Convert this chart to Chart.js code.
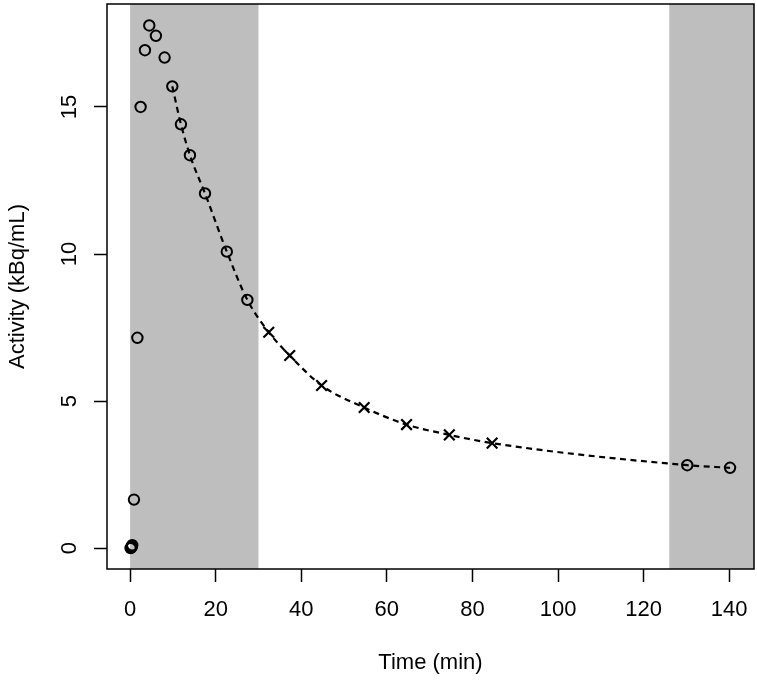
<!DOCTYPE html>
<html>
<head>
<meta charset="utf-8">
<title>Activity vs Time</title>
<script src="https://cdn.jsdelivr.net/npm/chart.js@4.4.0/dist/chart.umd.min.js"></script>
<style>
    body { margin: 0; background: #ffffff; }
    #wrap { width: 757px; height: 680px; }
</style>
</head>
<body>
<div id="wrap"><canvas id="activityChart" width="757" height="680"></canvas></div>
<script>
// measured samples (open circles)
const circleTimes = [0.1, 0.25, 0.4, 0.5, 0.9, 1.7, 2.45, 3.47, 4.48, 6.03, 8.06, 9.86, 11.88, 13.98, 17.5, 22.6, 27.4, 130.2, 140.2];
const circleValues = [0.0, 0.02, 0.05, 0.1, 1.65, 7.15, 15.0, 16.93, 17.77, 17.42, 16.68, 15.7, 14.41, 13.36, 12.06, 10.08, 8.44, 2.82, 2.73];

// estimated samples (crosses)
const crossTimes = [32.4, 37.3, 44.75, 54.7, 64.6, 74.6, 84.6];
const crossValues = [7.34, 6.55, 5.53, 4.78, 4.2, 3.85, 3.57];

// dashed fitted curve
const curveTimes = [9.86, 11.88, 13.98, 17.5, 22.6, 27.4, 32.4, 37.3, 44.75, 54.7, 64.6, 74.6, 84.6, 130.2, 140.2];
const curveValues = [15.7, 14.41, 13.36, 12.06, 10.08, 8.44, 7.34, 6.55, 5.53, 4.78, 4.2, 3.85, 3.57, 2.82, 2.73];

// grey bands (min)
const bandStarts = [0, 126];
const bandEnds = [30, 150];

const xTicks = [0, 20, 40, 60, 80, 100, 120, 140];
const yTicks = [0, 5, 10, 15];

function toPoints(xs, ys) {
    return xs.map(function (x, i) { return { x: x, y: ys[i] }; });
}

const fontFamily = "'Liberation Sans', Arial, sans-serif";
const fontSize = 22;

// shaded bands behind the data, box and rotated y labels on top
const bandPlugin = {
    id: "bands",
    beforeDatasetsDraw: function (chart) {
        const ctx = chart.ctx;
        const area = chart.chartArea;
        const xs = chart.scales.x;
        ctx.save();
        ctx.fillStyle = "#bebebe";
        for (let i = 0; i < bandStarts.length; i++) {
            let left = Math.max(xs.getPixelForValue(bandStarts[i]), area.left);
            let right = Math.min(xs.getPixelForValue(bandEnds[i]), area.right);
            ctx.fillRect(left, area.top, right - left, area.bottom - area.top);
        }
        ctx.restore();
    },
    afterDraw: function (chart) {
        const ctx = chart.ctx;
        const area = chart.chartArea;
        const ys = chart.scales.y;
        ctx.save();
        ctx.strokeStyle = "#000000";
        ctx.lineWidth = 1.5;
        ctx.strokeRect(area.left, area.top, area.right - area.left, area.bottom - area.top);

        ctx.fillStyle = "#000000";
        ctx.font = fontSize + "px " + fontFamily;
        ctx.textAlign = "center";
        ctx.textBaseline = "middle";
        yTicks.forEach(function (v) {
            const py = ys.getPixelForValue(v);
            ctx.save();
            ctx.translate(area.left - 37, py);
            ctx.rotate(-Math.PI / 2);
            ctx.fillText(String(v), 0, 0);
            ctx.restore();
        });
        ctx.restore();
    }
};

new Chart(
    document.getElementById("activityChart"),
    {
        type: "scatter",
        data: {
            datasets: [
                {
                    label: "Fit",
                    type: "line",
                    data: toPoints(curveTimes, curveValues),
                    borderColor: "#000000",
                    borderWidth: 2.2,
                    borderDash: [6, 4.5],
                    cubicInterpolationMode: "monotone",
                    pointRadius: 0,
                    fill: false
                },
                {
                    label: "Measured",
                    data: toPoints(circleTimes, circleValues),
                    pointStyle: "circle",
                    pointRadius: 5.2,
                    pointBorderWidth: 2,
                    borderColor: "#000000",
                    backgroundColor: "rgba(0,0,0,0)"
                },
                {
                    label: "Estimated",
                    data: toPoints(crossTimes, crossValues),
                    pointStyle: "crossRot",
                    pointRadius: 7.5,
                    pointBorderWidth: 2.2,
                    borderColor: "#000000",
                    backgroundColor: "#000000"
                }
            ]
        },
        options: {
            responsive: false,
            animation: false,
            devicePixelRatio: 1,
            layout: {
                autoPadding: false,
                padding: { top: 4, right: 3, left: 0, bottom: 0 }
            },
            plugins: {
                legend: { display: false },
                tooltip: { enabled: false }
            },
            scales: {
                x: {
                    type: "linear",
                    min: -5.4,
                    max: 145.8,
                    afterBuildTicks: function (scale) {
                        scale.ticks = xTicks.map(function (v) { return { value: v }; });
                    },
                    afterFit: function (scale) {
                        scale.height = 111;
                        scale.paddingLeft = 0;
                        scale.paddingRight = 0;
                    },
                    grid: {
                        drawOnChartArea: false,
                        drawTicks: true,
                        tickLength: 13,
                        tickColor: "#000000",
                        tickWidth: 1.5
                    },
                    border: { display: false },
                    ticks: {
                        color: "#000000",
                        padding: 15,
                        maxRotation: 0,
                        font: { family: fontFamily, size: fontSize }
                    },
                    title: {
                        display: true,
                        text: "Time (min)",
                        color: "#000000",
                        font: { family: fontFamily, size: fontSize },
                        padding: { top: 0, bottom: 4 }
                    }
                },
                y: {
                    type: "linear",
                    min: -0.71,
                    max: 18.5,
                    afterBuildTicks: function (scale) {
                        scale.ticks = yTicks.map(function (v) { return { value: v }; });
                    },
                    afterFit: function (scale) {
                        scale.width = 107;
                        scale.paddingTop = 0;
                        scale.paddingBottom = 0;
                    },
                    grid: {
                        drawOnChartArea: false,
                        drawTicks: true,
                        tickLength: 13,
                        tickColor: "#000000",
                        tickWidth: 1.5
                    },
                    border: { display: false },
                    ticks: {
                        display: false
                    },
                    title: {
                        display: true,
                        text: "Activity (kBq/mL)",
                        color: "#000000",
                        font: { family: fontFamily, size: fontSize },
                        padding: { top: 5, bottom: 0 }
                    }
                }
            }
        },
        plugins: [bandPlugin]
    }
);
</script>
</body>
</html>
